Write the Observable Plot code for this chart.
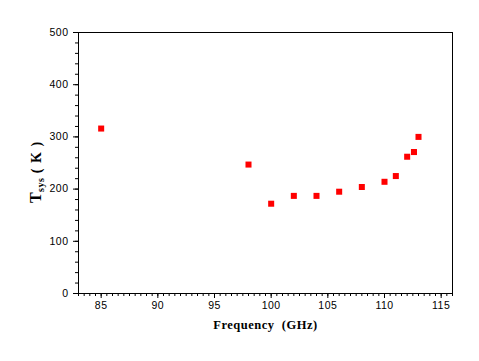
<!DOCTYPE html>
<html>
<head>
<meta charset="utf-8">
<script src="https://cdn.jsdelivr.net/npm/d3@7"></script>
<script src="https://cdn.jsdelivr.net/npm/@observablehq/plot@0.6"></script>
<style>
  html, body { margin: 0; padding: 0; background: white; }
</style>
</head>
<body>
<div id="chart"></div>
<script>
// Data
const freq = [85, 98, 100, 102, 104, 106, 108, 110, 111, 112, 112.6, 113];
const tsys = [316, 247, 172, 187, 187, 195, 204, 214, 225, 262, 271, 300];

const xMajorTicks = [85, 90, 95, 100, 105, 110, 115];
const xMinorTicks = d3.range(83, 116.01, 0.5);
const yMajorTicks = [0, 100, 200, 300, 400, 500];
const yMinorTicks = d3.range(0, 500.01, 20);

const xTitle = "Frequency  (GHz)";
const yTitleMain = "T";
const yTitleSub = "sys";
const yTitleUnit = " ( K )";

const data = freq.map((f, i) => ({freq: f, tsys: tsys[i]}));

const plot = Plot.plot({
  width: 479,
  height: 361,
  marginLeft: 78,
  marginRight: 27,
  marginTop: 32,
  marginBottom: 68,
  style: {fontFamily: "'Liberation Sans', Arial, sans-serif", fontSize: "10.5px", background: "white", color: "black", letterSpacing: "0.5px"},
  x: {domain: [83, 116], label: null},
  y: {domain: [0, 500], label: null},
  marks: [
    Plot.frame({stroke: "black", strokeWidth: 1}),
    Plot.axisX({ticks: xMinorTicks, tickSize: 3, text: null, label: null, stroke: "black"}),
    Plot.axisX({ticks: xMajorTicks, tickSize: 5, tickPadding: 3, label: null, stroke: "black", fill: "black"}),
    Plot.axisY({ticks: yMinorTicks, tickSize: 3, text: null, label: null, stroke: "black"}),
    Plot.axisY({ticks: yMajorTicks, tickSize: 5, tickPadding: 5, label: null, stroke: "black", fill: "black"}),
    Plot.dot(data, {x: "freq", y: "tsys", symbol: "square", r: 3.4, fill: "#ff0000", stroke: "none"}),
    Plot.text([xTitle], {frameAnchor: "bottom", dy: 35, fontFamily: "'Liberation Serif', 'Times New Roman', serif", fontWeight: "bold", fontSize: 12.5, fill: "black", text: d => d, letterSpacing: "1px"})
  ]
});

// Y title with subscript
const svg = d3.select(plot);
const yt = svg.append("text")
  .attr("transform", "translate(41,172) rotate(-90)")
  .attr("text-anchor", "middle")
  .attr("font-family", "'Liberation Serif', 'Times New Roman', serif")
  .attr("font-weight", "bold")
  .attr("fill", "black");
yt.append("tspan").attr("font-size", 16).text(yTitleMain);
yt.append("tspan").attr("font-size", 10).attr("dy", 3).attr("letter-spacing", "0.5px").text(yTitleSub);
yt.append("tspan").attr("font-size", 14).attr("dy", -3).attr("letter-spacing", "1px").text(yTitleUnit);

document.getElementById("chart").appendChild(plot);
</script>
</body>
</html>
